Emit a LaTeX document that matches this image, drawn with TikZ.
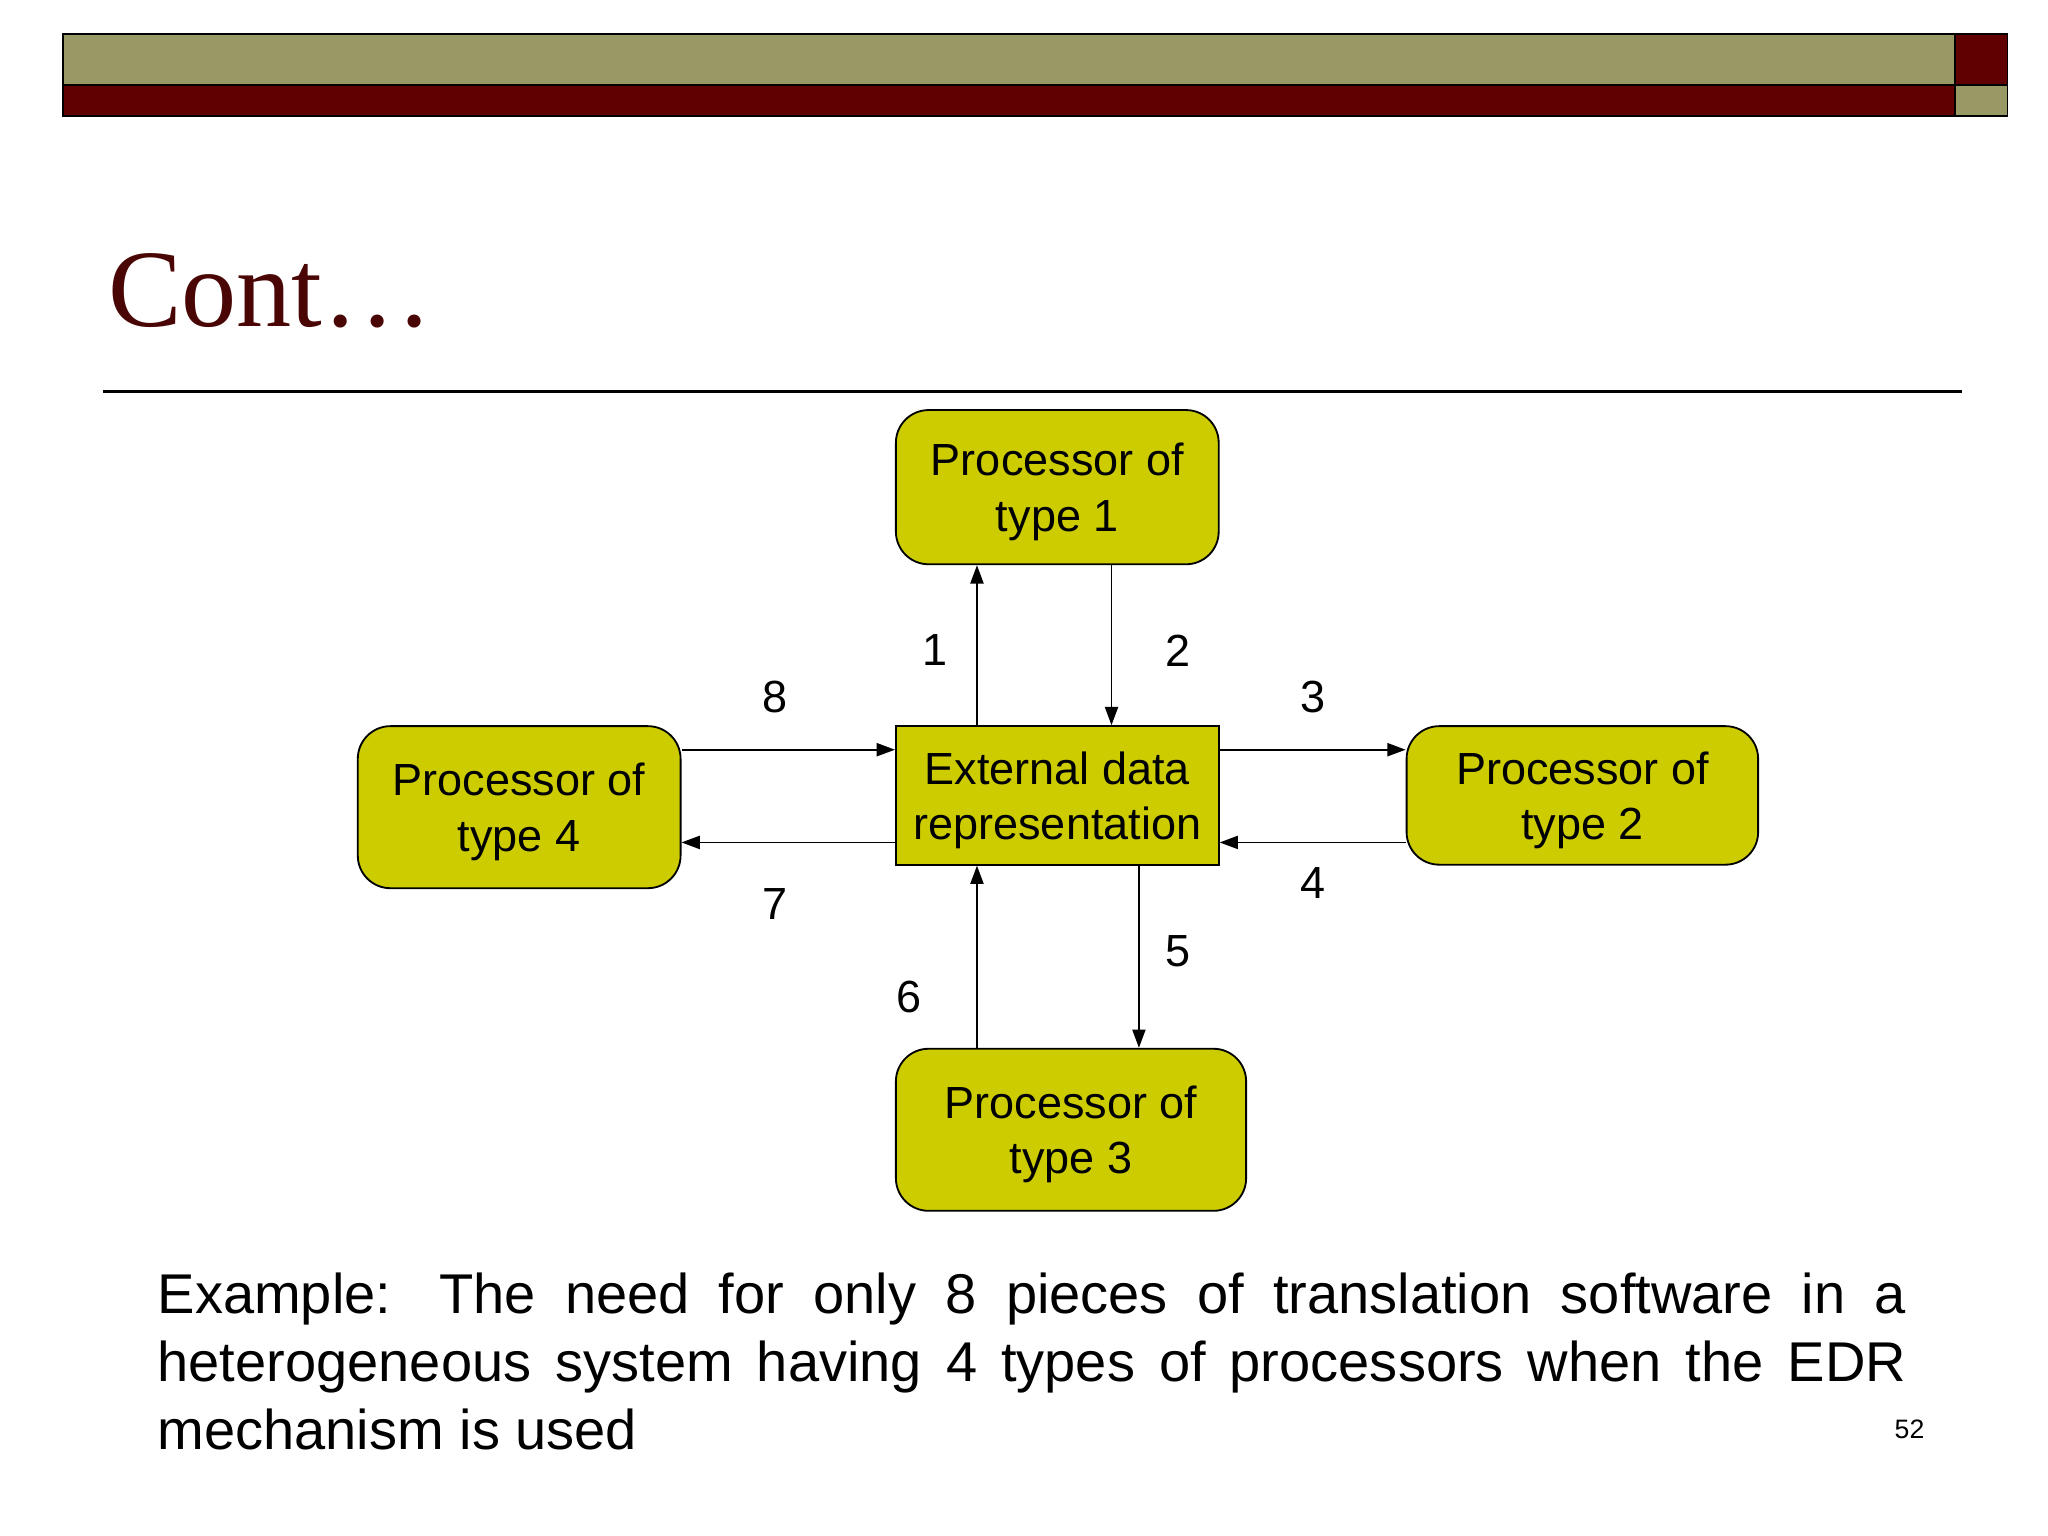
\documentclass[tikz,border=0pt]{standalone}
\usepackage{fontspec}
\setmainfont{Liberation Sans}
\newfontfamily\serifttl{Liberation Serif}
\usetikzlibrary{arrows.meta}
\definecolor{olivebar}{HTML}{999966}
\definecolor{darkred}{HTML}{600000}
\definecolor{boxfill}{HTML}{CCCC00}
\definecolor{ttl}{HTML}{4A0505}
\begin{document}
\begin{tikzpicture}[x=0.01cm,y=-0.01cm,
  procbox/.style={draw=black,fill=boxfill,rounded corners=0.25cm,font=\fontsize{9.8pt}{12pt}\selectfont,align=center,inner sep=0pt,text depth=-0.15cm},
  arr/.style={-{Triangle[length=1.4mm,width=1mm]},line width=0.4pt},
  lab/.style={font=\fontsize{9.8pt}{12pt}\selectfont}]
\useasboundingbox (0,0) rectangle (1568,1176);
\fill[white] (0,0) rectangle (1568,1176);
% header
\draw[fill=olivebar] (48,26) rectangle (1497,65);
\draw[fill=darkred] (48,65) rectangle (1497,89);
\draw[fill=darkred] (1497,26) rectangle (1537,65);
\draw[fill=olivebar] (1497,65) rectangle (1537,89);
\node[anchor=base west,inner sep=0pt,text=ttl,font=\serifttl\fontsize{24pt}{26pt}\selectfont] (title) at (82,250) {Cont…};
\draw[line width=0.6pt] (79,300) -- (1502,300);
% boxes
\node[procbox,minimum width=2.47cm,minimum height=1.18cm] (p1) at (809.5,373) {Processor of\\type 1};
\node[procbox,rounded corners=0pt,minimum width=2.47cm,minimum height=1.06cm] (edr) at (809.5,609) {External data\\representation};
\node[procbox,minimum width=2.69cm,minimum height=1.06cm] (p2) at (1211.5,609) {Processor of\\type 2};
\node[procbox,minimum width=2.47cm,minimum height=1.24cm] (p4) at (397.5,618) {Processor of\\type 4};
\node[procbox,minimum width=2.68cm,minimum height=1.24cm] (p3) at (820,865) {Processor of\\type 3};
% arrows
\draw[arr] (edr.north -| 748,0) -- (p1.south -| 748,0);
\draw[arr] (p1.south -| 851,0) -- (edr.north -| 851,0);
\draw[arr] (p4.east |- 0,574) -- (edr.west |- 0,574);
\draw[arr] (edr.west |- 0,645) -- (p4.east |- 0,645);
\draw[arr] (edr.east |- 0,574) -- (p2.west |- 0,574);
\draw[arr] (p2.west |- 0,645) -- (edr.east |- 0,645);
\draw[arr] (edr.south -| 872,0) -- (p3.north -| 872,0);
\draw[arr] (p3.north -| 748,0) -- (edr.south -| 748,0);
% labels
\node[lab] (l1) at (716,498) {1};
\node[lab] (l2) at (902,498) {2};
\node[lab] (l8) at (593,534) {8};
\node[lab] (l3) at (1005,534) {3};
\node[lab] (l7) at (593,692) {7};
\node[lab] (l4) at (1005,676) {4};
\node[lab] (l5) at (902,728) {5};
\node[lab] (l6) at (696,763) {6};
% caption
\node[anchor=north west,inner sep=0pt,text width=13.38cm,align=justify,font=\fontsize{12.2pt}{14.8pt}\selectfont] (cap) at (120,974) {\hyphenpenalty=10000 Example: The need for only 8 pieces of translation software in a\linebreak heterogeneous system having 4 types of processors when the EDR\linebreak mechanism is used};
\node[font=\fontsize{5.8pt}{7pt}\selectfont] (pg) at (1462,1094) {52};
\end{tikzpicture}
\end{document}
